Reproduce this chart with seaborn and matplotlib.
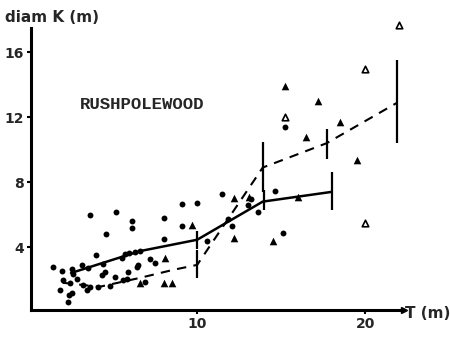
import matplotlib
matplotlib.use("Agg")
import matplotlib.pyplot as plt
import seaborn as sns
import pandas as pd

# ---- data ----
circ_x = [1.45, 1.95, 2.55, 2.6, 3.15, 3.5, 4.0, 4.4, 5.55, 5.7, 5.95, 6.3,
          2.0, 2.45, 2.85, 3.2, 3.6, 4.35, 4.5, 5.1, 5.6, 5.9, 6.4, 6.5,
          2.3, 2.55, 2.4, 3.45, 4.1, 4.8, 5.8, 6.9, 1.85, 7.5, 7.2,
          3.6, 5.2, 6.1, 6.1, 4.6, 8.0, 9.1, 10.0, 9.1, 8.0, 11.5, 6.6,
          10.6, 12.1, 11.85, 13.0, 13.2, 13.6, 14.6, 15.1, 15.2]
circ_y = [2.75, 2.5, 2.65, 2.35, 2.9, 2.7, 3.5, 2.95, 3.3, 3.6, 3.65, 3.7,
          1.95, 1.8, 2.0, 1.65, 1.55, 2.3, 2.45, 2.15, 1.95, 2.45, 2.75, 2.9,
          0.6, 1.15, 1.05, 1.35, 1.55, 1.6, 2.0, 1.85, 1.35, 3.0, 3.25,
          6.0, 6.15, 5.6, 5.2, 4.8, 5.8, 6.65, 6.7, 5.3, 4.5, 7.25, 3.75,
          4.4, 5.3, 5.7, 6.6, 6.95, 6.15, 7.45, 4.85, 11.4]

tri_x = [9.7, 8.1, 6.6, 8.0, 8.5, 12.2, 13.1, 12.2, 14.5, 16.0,
         15.2, 17.2, 18.5, 16.5, 19.5]
tri_y = [5.35, 3.3, 1.8, 1.8, 1.8, 7.0, 7.1, 4.55, 4.35, 7.1,
         13.9, 13.0, 11.7, 10.8, 9.35]

open_x = [22.0, 20.0, 20.0, 15.2]
open_y = [17.7, 15.0, 5.5, 12.0]

# mean lines (solid / dashed) with their error bars
solid_x = [2.5, 6.6, 10.0, 13.9, 18.0]
solid_y = [2.4, 3.75, 4.45, 6.8, 7.4]
solid_err_x = [10.0, 14.0, 18.0]
solid_err_lo = [3.9, 6.3, 6.3]
solid_err_hi = [5.0, 7.5, 8.6]

dash_x = [2.0, 4.2, 6.6, 8.6, 10.0, 13.9, 17.7, 21.9]
dash_y = [1.8, 1.55, 2.1, 2.6, 2.9, 8.9, 10.4, 12.9]
dash_err_x = [10.0, 13.9, 17.7, 21.9]
dash_err_lo = [2.1, 7.4, 9.4, 10.4]
dash_err_hi = [3.8, 10.5, 11.3, 15.5]

x_ticks = [10, 20]
y_ticks = [4, 8, 12, 16]

# ---- plot ----
sns.set_theme(style="white")
plt.rcParams['font.family'] = ['DejaVu Sans']

fig = plt.figure(figsize=(4.5, 3.4), dpi=100)
ax = fig.add_axes([31/450, 30/340, (404-31)/450, 282/340])

df_c = pd.DataFrame({"x": circ_x, "y": circ_y})
df_t = pd.DataFrame({"x": tri_x, "y": tri_y})
df_o = pd.DataFrame({"x": open_x, "y": open_y})
sns.scatterplot(data=df_c, x="x", y="y", ax=ax, marker="o", s=18,
                color="black", edgecolor="black", linewidth=0, zorder=3)
sns.scatterplot(data=df_t, x="x", y="y", ax=ax, marker="^", s=30,
                color="black", edgecolor="black", linewidth=0, zorder=3)
sns.scatterplot(data=df_o, x="x", y="y", ax=ax, marker="^", s=22,
                facecolor="white", edgecolor="black", linewidth=1.2,
                zorder=3, clip_on=False)

sns.lineplot(x=solid_x, y=solid_y, ax=ax, color="black", linewidth=1.8,
             sort=False, estimator=None)
sns.lineplot(x=dash_x, y=dash_y, ax=ax, color="black", linewidth=1.5,
             sort=False, estimator=None, dashes=False, linestyle=(0, (4.5, 3.5)))
ax.vlines(solid_err_x, solid_err_lo, solid_err_hi, color="black", linewidth=1.6)
ax.vlines(dash_err_x, dash_err_lo, dash_err_hi, color="black", linewidth=1.6)

ax.set_xlim(0.12, 22.3)
ax.set_ylim(0.12, 17.5)
ax.set_xticks(x_ticks)
ax.set_yticks(y_ticks)
ax.set_xticklabels([str(t) for t in x_ticks], fontsize=10, fontweight="bold")
ax.set_yticklabels([str(t) for t in y_ticks], fontsize=10, fontweight="bold")
ax.tick_params(axis="both", direction="out", length=3, width=1.5,
               color="black", pad=2, bottom=True, left=True)
ax.set_xlabel("")
ax.set_ylabel("")
for s in ["top", "right"]:
    ax.spines[s].set_visible(False)
for s in ["left", "bottom"]:
    ax.spines[s].set_color("black")
    ax.spines[s].set_linewidth(2.2)

# arrow head at the end of the x axis
ax.plot(1.0, 0, marker=">", color="black", markersize=4,
        transform=ax.transAxes, clip_on=False)

fig.text(5/450, 1 - 18/340, "diam K (m)", fontsize=11, fontweight="bold",
         va="center", ha="left")
fig.text(405/450, 1 - 313/340, "T (m)", fontsize=11, fontweight="bold",
         va="center", ha="left")
ax.text(3.0, 12.8, "RUSHPOLEWOOD", fontsize=12.5, fontweight="bold",
        family="Liberation Mono", va="center", ha="left")

fig.savefig("out.png", dpi=100)
